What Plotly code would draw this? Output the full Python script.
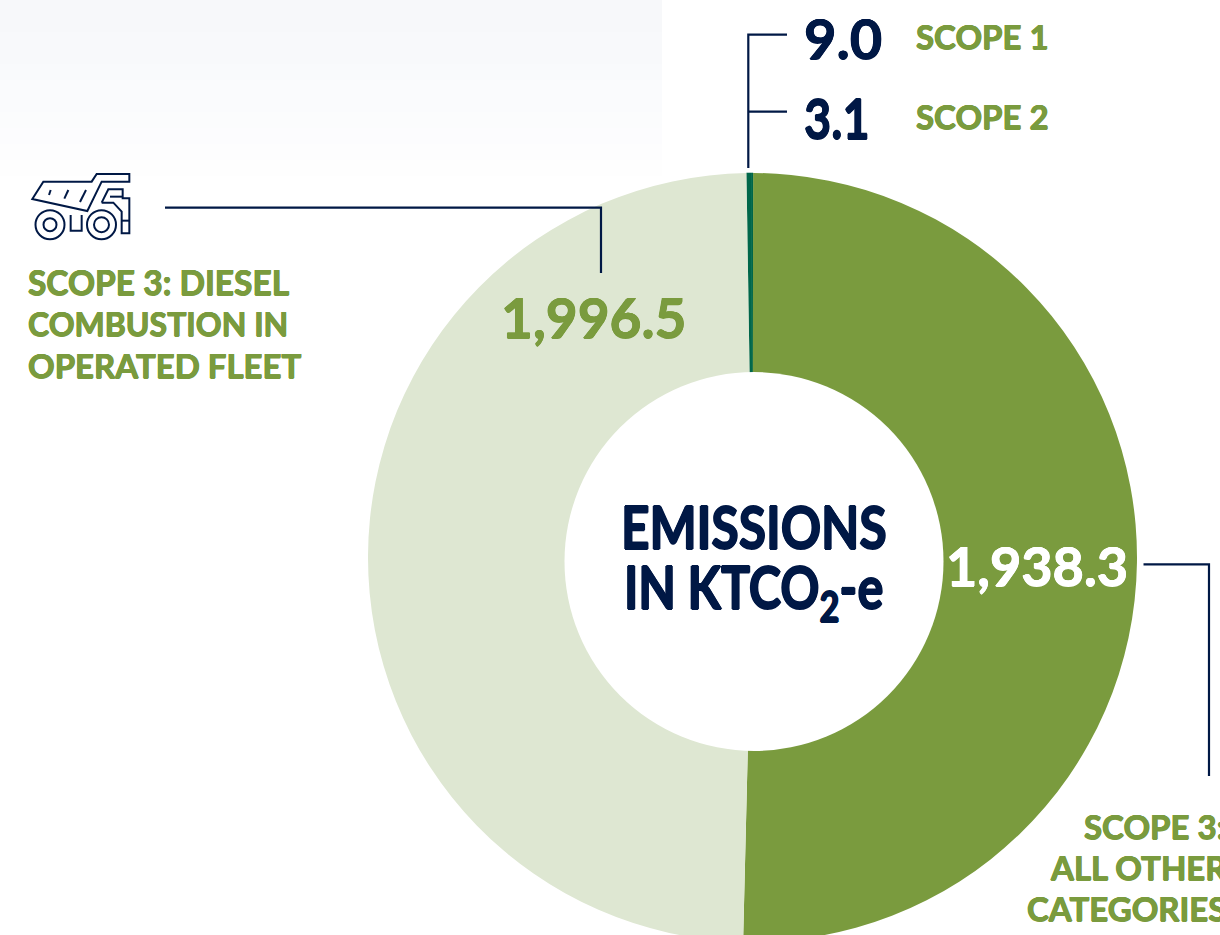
import json
import plotly.graph_objects as go

W, H = 1220, 945
NAVY = "#001845"
GREEN = "#7A9B3E"
PALE = "#DEE7D2"
DARK = "#00674A"
FONT = "Lato"

# Arc sizes (degrees) as drawn in the picture; printed figures are kept separately below.
categories = ["Scope 1", "Scope 2", "Scope 3: all other categories", "Scope 3: diesel combustion in operated fleet"]
arc_degrees = [0.74, 0.26, 181.3, 177.7]
printed_values = [9.0, 3.1, 1938.3, 1996.5]
slice_colors = [DARK, DARK, GREEN, PALE]
band_colors = ["#F7F8FA", "#F7F8FA", "#F8F9FB", "#F8F9FB", "#F9FAFC", "#FAFBFD", "#FAFBFD",
               "#FBFCFD", "#FCFCFE", "#FDFDFE", "#FEFEFE", "#FFFFFF"]


def px(x):
    return x / W


def py(y):
    return 1 - y / H


shapes = []
for i, c in enumerate(band_colors):
    shapes.append(dict(type="rect", xref="paper", yref="paper", layer="below", line_width=0, fillcolor=c,
                       x0=0, x1=px(662), y0=py(i * 16), y1=py((i + 1) * 16)))


def path(points, close=False, width=2.2):
    d = "M" + " L".join(f"{px(x):.5f},{py(y):.5f}" for x, y in points) + (" Z" if close else "")
    shapes.append(dict(type="path", xref="paper", yref="paper", path=d,
                       line=dict(color=NAVY, width=width)))


def circle(cx, cy, r, fill=None, line=True):
    shapes.append(dict(type="circle", xref="paper", yref="paper", x0=px(cx - r), x1=px(cx + r),
                       y0=py(cy - r), y1=py(cy + r), fillcolor=fill,
                       line=dict(color=NAVY, width=2) if line else dict(width=0)))


# the reference hole sits slightly off the ring's centre
circle(754, 561.5, 189.5, fill="#FFFFFF", line=False)

# leader lines
path([(787, 34.7), (748.3, 34.7), (748.3, 168)])
path([(748.3, 111.7), (787, 111.7)])
path([(165, 207.7), (601, 207.7), (601, 273)])
path([(1143.5, 564.3), (1209, 564.3), (1209, 776)])


# haul truck icon (zoom coordinates of the icon crop, 3x, origin 0,150)
def t(pts):
    return [(x / 3, 150 + y / 3) for x, y in pts]


path(t([(97, 147), (130, 95), (275, 95), (290, 72), (388, 72), (388, 95), (305, 95), (262, 183)]), close=True, width=2)
path(t([(152, 120), (147, 135)]), width=2)
path(t([(205, 120), (193, 146)]), width=2)
path(t([(258, 120), (240, 156)]), width=2)
path(t([(305, 158), (325, 118), (368, 118), (368, 145), (388, 145), (388, 250), (365, 250), (365, 185), (340, 158), (305, 158)]), width=2)
path(t([(330, 140), (368, 140)]), width=2)
path(t([(365, 212), (388, 212)]), width=2)
path(t([(212, 195), (212, 242), (245, 242), (245, 195)]), width=2)
circle(50, 150 + 224 / 3, 14.5)
circle(50, 150 + 224 / 3, 6.5)
circle(101.5, 150 + 224 / 3, 14.5)
circle(101.5, 150 + 224 / 3, 7.5)


def fmt(v):
    return f"{v:,.1f}"


annotations = []
x_squeeze = {}


def label(text, x, y, size, color, bold=0.5, squeeze=None):
    shadow = f"{bold}px 0 0 {color}, -{bold}px 0 0 {color}, 0 {bold}px 0 {color}, 0 -{bold}px 0 {color}"
    annotations.append(dict(text=text, x=px(x), y=py(y), xref="paper", yref="paper", xanchor="left",
                            yanchor="middle", showarrow=False, align="left", borderpad=0,
                            font=dict(family=FONT, size=size, color=color, weight=700, shadow=shadow)))
    if squeeze:
        x_squeeze[text] = squeeze


label(fmt(printed_values[0]), 803, 37, 56, NAVY)
label(fmt(printed_values[1]), 803, 117, 56, NAVY, squeeze=0.84)
label("SCOPE 1", 915, 36, 33, GREEN)
label("SCOPE 2", 915, 116, 33, GREEN)
label("SCOPE 3: DIESEL", 27, 282, 33.5, GREEN)
label("COMBUSTION IN", 27, 323, 32, GREEN)
label("OPERATED FLEET", 27, 365, 33, GREEN)
label(fmt(printed_values[3]), 500, 317, 55, GREEN)
label(fmt(printed_values[2]), 945, 565, 54, "#FFFFFF")
label("EMISSIONS", 620, 526, 60, NAVY, bold=0.9, squeeze=0.83)
label("IN KTCO<sub>2</sub>-e", 623, 590, 60, NAVY, bold=0.9, squeeze=0.81)
label("SCOPE 3:", 1083, 826, 33, GREEN)
label("ALL OTHER", 1049, 867, 33, GREEN)
label("CATEGORIES", 1026, 908, 33, GREEN)

fig = go.Figure(go.Pie(
    labels=categories,
    values=arc_degrees,
    customdata=printed_values,
    sort=False,
    direction="clockwise",
    rotation=-0.9,
    hole=0.45,
    textinfo="none",
    hoverinfo="label",
    marker=dict(colors=slice_colors, line=dict(width=[0.6, 0.6, 0, 0], color=DARK)),
    domain=dict(x=[px(368), px(1137)], y=[py(942), py(173)]),
    showlegend=False,
))
fig.update_layout(width=W, height=H, margin=dict(l=0, r=0, t=0, b=0),
                  paper_bgcolor="#FFFFFF", shapes=shapes, annotations=annotations)

post = """
document.body.style.margin='0';
document.documentElement.style.overflow='hidden';
document.body.style.overflow='hidden';
var squeeze = %s;
function applySqueeze(){
  document.querySelectorAll('text.annotation-text').forEach(function(el){
    var s = squeeze[el.getAttribute('data-unformatted')];
    if(!s || el.getAttribute('data-squeezed')) return;
    var x0 = el.getBBox().x;
    el.setAttribute('transform','translate('+(x0*(1-s))+',0) scale('+s+',1)');
    el.setAttribute('data-squeezed','1');
  });
}
applySqueeze();
setTimeout(applySqueeze,30);
setTimeout(applySqueeze,200);
""" % json.dumps(x_squeeze)
fig.write_html("out.html", config=dict(displayModeBar=False), post_script=post)
